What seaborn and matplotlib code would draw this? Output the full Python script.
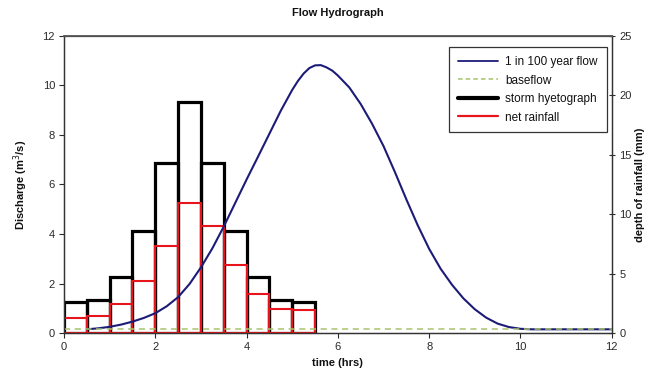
import numpy as np
import matplotlib
matplotlib.use("Agg")
import matplotlib.pyplot as plt
import seaborn as sns
from matplotlib.lines import Line2D

# Half-hour rainfall blocks (start time, hrs) and depths (mm)
block_start = [0.0, 0.5, 1.0, 1.5, 2.0, 2.5, 3.0, 3.5, 4.0, 4.5, 5.0]
storm_depth_mm = [2.64, 2.78, 4.75, 8.56, 14.3, 19.4, 14.3, 8.56, 4.75, 2.78, 2.64]
net_depth_mm = [1.29, 1.43, 2.42, 4.39, 7.29, 10.9, 8.98, 5.74, 3.29, 2.00, 1.94]
block_width = 0.5

# 1 in 100 year flood hydrograph (hrs, m3/s)
flow_time = [0.5, 0.75, 1.0, 1.25, 1.5, 1.75, 2.0, 2.25, 2.5, 2.75, 3.0, 3.25,
             3.5, 3.75, 4.0, 4.25, 4.5, 4.75, 5.0, 5.125, 5.25, 5.375, 5.5, 5.625,
             5.75, 5.875, 6.0, 6.25, 6.5, 6.75, 7.0, 7.25, 7.5, 7.75, 8.0, 8.25,
             8.5, 8.75, 9.0, 9.25, 9.5, 9.75, 10.0, 10.25, 12.0]
flow_q = [0.15, 0.19, 0.25, 0.34, 0.46, 0.61, 0.80, 1.08, 1.45, 1.98, 2.65, 3.42,
          4.30, 5.25, 6.20, 7.12, 8.05, 8.98, 9.82, 10.18, 10.48, 10.70, 10.81, 10.82,
          10.73, 10.60, 10.40, 9.92, 9.25, 8.45, 7.55, 6.50, 5.40, 4.35, 3.40, 2.60,
          1.95, 1.40, 0.96, 0.62, 0.38, 0.24, 0.17, 0.15, 0.15]

# Baseflow (m3/s)
baseflow_time = [0.0, 12.0]
baseflow_q = [0.15, 0.15]

sns.set_theme(style="white")
plt.rcParams["font.family"] = ["Liberation Sans", "DejaVu Sans"]

fig = plt.figure(figsize=(6.48, 3.78), dpi=100)
fig.subplots_adjust(left=0.0988, right=0.944, top=0.905, bottom=0.119)
ax = fig.add_subplot(111)
ax2 = ax.twinx()

# Rainfall blocks on the secondary (mm) axis
centres = [s + block_width / 2 for s in block_start]
edges = list(block_start) + [block_start[-1] + block_width]
sns.histplot(x=centres, weights=storm_depth_mm, bins=edges, ax=ax2,
             fill=False, color="black", linewidth=2.3, element="bars")
sns.histplot(x=centres, weights=net_depth_mm, bins=edges, ax=ax2,
             fill=False, color="#e8141c", linewidth=1.5, element="bars")

# Flows on the primary axis, drawn above the blocks
ax.set_zorder(ax2.get_zorder() + 1)
ax.patch.set_visible(False)
sns.lineplot(x=flow_time, y=flow_q, ax=ax, color="#1c1c78", linewidth=1.5)
sns.lineplot(x=baseflow_time, y=baseflow_q, ax=ax, color="#a9c46c",
             linewidth=1.1, linestyle=(0, (4, 3)))

ax.set_xlim(0, 12)
ax.set_ylim(0, 12)
ax2.set_ylim(0, 25)
ax.set_xticks(np.arange(0, 13, 2))
ax.set_yticks(np.arange(0, 13, 2))
ax2.set_yticks(np.arange(0, 26, 5))

txt = "#2a2a2a"
ax.set_title("Flow Hydrograph", fontsize=8, fontweight="bold", pad=14, color="#111111")
ax.set_xlabel("time (hrs)", fontsize=8, fontweight="bold", labelpad=4, color="#111111")
ax.set_ylabel("Discharge (m$^3$/s)", fontsize=8, fontweight="bold", labelpad=9, color="#111111")
ax2.set_ylabel("depth of rainfall (mm)", fontsize=8, fontweight="bold", labelpad=2, color="#111111")

ax.tick_params(axis="both", labelsize=8, colors=txt, length=3.5, width=0.8,
               direction="out", pad=3, left=True, bottom=True)
ax2.tick_params(axis="y", labelsize=8, colors=txt, length=5, width=0.8,
                direction="inout", pad=3, right=True)

for a in (ax, ax2):
    for s in a.spines.values():
        s.set_visible(True)
        s.set_color("#333333")
        s.set_linewidth(0.9)
ax.spines["top"].set_color("#555555")
ax.spines["top"].set_linewidth(1.3)

handles = [
    Line2D([], [], color="#1c1c78", linewidth=1.3),
    Line2D([], [], color="#a9c46c", linewidth=1.1, linestyle=(0, (3, 2))),
    Line2D([], [], color="black", linewidth=3.0),
    Line2D([], [], color="#e8141c", linewidth=1.6),
]
labels = ["1 in 100 year flow", "baseflow", "storm hyetograph", "net rainfall"]
leg = ax.legend(handles, labels, loc="upper right", bbox_to_anchor=(0.991, 0.962),
                fontsize=8.5, frameon=True, fancybox=False, handlelength=3.4,
                labelspacing=0.55, borderpad=0.75, handletextpad=0.65,
                borderaxespad=0)
leg.get_frame().set_edgecolor("black")
leg.get_frame().set_linewidth(0.9)
for t in leg.get_texts():
    t.set_color("#111111")

fig.savefig("out.png", dpi=100)
